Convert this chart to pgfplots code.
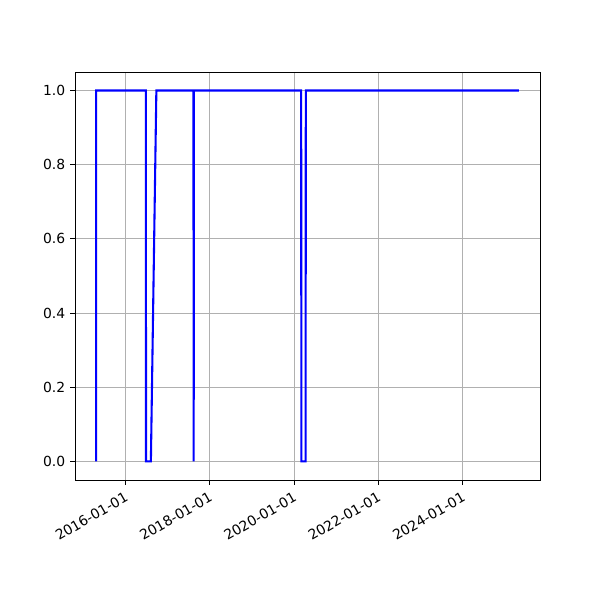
\documentclass[border=0pt]{standalone}
\usepackage{pgfplots}
\pgfplotsset{compat=1.18}
\usepackage{fontspec}
\setmainfont{DejaVu Sans}
\begin{document}
\begin{tikzpicture}
\begin{axis}[
  scale only axis,
  width=334.8pt, height=293.76pt,
  xmin=2014.80, xmax=2025.83,
  ymin=-0.05, ymax=1.05,
  xtick={2016,2018,2020,2022,2024},
  xticklabels={2016-01-01,2018-01-01,2020-01-01,2022-01-01,2024-01-01},
  xticklabel style={rotate=30, anchor=north east, font=\fontsize{10}{12}\selectfont},
  ytick={0,0.2,0.4,0.6,0.8,1.0},
  yticklabel style={/pgf/number format/.cd, fixed, fixed zerofill, precision=1, /tikz/.cd, font=\fontsize{10}{12}\selectfont},
  /pgf/number format/assume math mode=true,
  grid=major,
  major grid style={color=black!31, line width=0.7pt},
  tick align=outside,
  major tick length=3.5pt,
  tick style={black, line width=0.6pt},
  xtick pos=bottom, ytick pos=left,
  axis line style={line width=0.6pt},
]
\addplot[blue, line width=1.5pt, mark=none, line join=miter] coordinates {
(2015.30,0) (2015.30,1) (2016.48,1) (2016.485,0) (2016.60,0) (2016.73,1)
(2017.61,1) (2017.615,0) (2017.62,1) (2020.165,1) (2020.17,0) (2020.27,0)
(2020.275,1) (2025.33,1)
};
\end{axis}
\path ([shift={(-54pt,-86.4pt)}]current axis.south west) rectangle ([shift={(43.2pt,51.84pt)}]current axis.north east);
\end{tikzpicture}
\end{document}
